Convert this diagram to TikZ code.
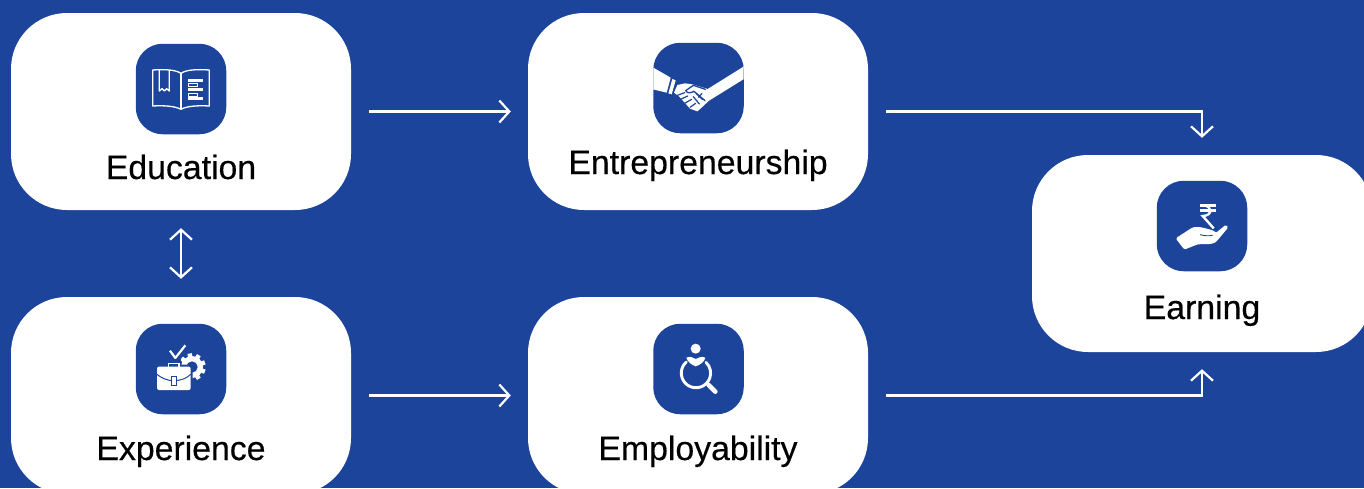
\documentclass[tikz,border=0pt]{standalone}
\usepackage{fontspec}
\setmainfont[FakeBold=0.35]{Liberation Sans}
\usetikzlibrary{arrows.meta,calc}
\definecolor{brandblue}{HTML}{1D449B}
\tikzset{
  card/.style={fill=white,rounded corners=56pt,minimum width=340pt,minimum height=197pt,inner sep=0pt,draw=none},
  tile/.style={fill=brandblue,rounded corners=27pt,minimum width=90.5pt,minimum height=90.5pt,inner sep=0pt,draw=none},
  caption/.style={anchor=base,text=black,font=\fontsize{33.8}{40}\selectfont,inner sep=0pt},
  flow/.style={draw=white,line width=2.2pt,-{Straight Barb[length=10pt,width=22pt,line width=2.2pt]},shorten <=18pt,shorten >=17pt},
  bothflow/.style={draw=white,line width=2.2pt,{Straight Barb[length=10pt,width=22pt,line width=2.2pt]}-{Straight Barb[length=10pt,width=22pt,line width=2.2pt]},shorten <=18pt,shorten >=18pt},
  zoomed/.style={x=0.33333pt,y=-0.33333pt},
  iconline/.style={draw=white,line width=1.3pt,line join=round,fill=none},
}
\begin{document}
\begin{tikzpicture}[x=1pt,y=-1pt]
\useasboundingbox (0,0) rectangle (1364,488);
\clip (0,0) rectangle (1364,488);
\fill[brandblue] (0,0) rectangle (1364,488);
% cards
\node[card] (edu) at (181,111.5) {};
\node[card] (ent) at (698,111.5) {};
\node[card] (exp) at (181,395.5) {};
\node[card] (emp) at (698,395.5) {};
\node[card] (earn) at (1202,253.5) {};
% tiles
\node[tile] (tedu) at (181,89) {};
\node[tile] (tent) at (698.5,88) {};
\node[tile] (texp) at (181,369) {};
\node[tile] (temp) at (698.5,369) {};
\node[tile] (tearn) at (1202,226) {};
% captions
\node[caption] (ledu) at (181,179) {Education};
\node[caption] (lent) at (698,174) {Entrepreneurship};
\node[caption] (lexp) at (181,460) {Experience};
\node[caption] (lemp) at (698,460) {Employability};
\node[caption] (learn) at (1202,319) {Earning};
% connectors
\draw[flow] (edu.east) -- (ent.west);
\draw[flow] (exp.east) -- (emp.west);
\draw[bothflow] (edu.south) -- (exp.north);
\draw[flow] (ent.east) -| (earn.north);
\draw[flow] (emp.east) -| (earn.south);
% book icon
\begin{scope}[shift={(120,30)},zoomed]
\draw[iconline] (183,130) .. controls (165,118) and (130,118) .. (98,120) -- (98,228) .. controls (130,226) and (165,228) .. (183,238) .. controls (200,228) and (235,226) .. (268,228) -- (268,120) .. controls (235,118) and (200,118) .. (183,130) -- cycle;
\draw[iconline] (183,130) -- (183,238);
\draw[iconline] (118,120) -- (118,183) -- (126,176) -- (133,183) -- (140,176) -- (148,183) -- (148,120);
\fill[white] (203,147) rectangle (248,156);
\draw[iconline,line width=1pt] (204,161) rectangle (232,170);
\fill[white] (203,175) rectangle (248,184);
\draw[iconline,line width=1pt] (204,189) rectangle (232,198);
\fill[white] (203,202) rectangle (248,211);
\end{scope}
% handshake icon
\begin{scope}[shift={(640,30)},zoomed]
\clip[rounded corners=27pt] (40,16) rectangle (311,287);
\fill[white] (30,107) -- (92,143) -- (80,188) -- (30,176) -- cycle;
\fill[white] (97,147) -- (107,151) -- (95,193) -- (85,190) -- cycle;
\fill[white] (320,104) -- (320,142) -- (207,212) -- (190,228) -- (172,244) -- (150,236) -- (118,200) -- (102,188) -- (112,165) -- (135,160) -- (157,163) -- (203,177) -- cycle;
\draw[brandblue,line width=1.3pt,line cap=round,line join=round] (196,178) -- (160,166) -- (137,182) .. controls (142,192) and (155,188) .. (162,184) -- (195,212);
\draw[brandblue,line width=1.2pt,line cap=round] (186,190) -- (176,202) (168,190) -- (187,208) (160,200) -- (178,222);
\draw[brandblue,line width=1.2pt,line cap=round] (112,196) -- (134,188) (122,208) -- (143,198) (134,220) -- (155,208) (150,232) -- (167,220);
\end{scope}
% briefcase icon
\begin{scope}[shift={(120,310)},zoomed]
\draw[white,line width=2.2pt,line join=miter,line cap=butt] (150,122) -- (166,144) -- (196,106);
% gear
\foreach \a in {-100,-60,-20,20,60,100,-140}{
  \draw[white,line width=4.4pt] ($(216,171)+(\a:24)$) -- ($(216,171)+(\a:41)$);
}
\fill[white] (216,171) circle[radius=33];
\fill[brandblue] (216,171) circle[radius=17];
% briefcase
\fill[brandblue,rounded corners=3pt] (105,164) rectangle (218,246);
\fill[brandblue] (138,148) rectangle (184,170);
\draw[white,line width=1.6pt] (146,172) -- (146,160) -- (177,160) -- (177,172);
\fill[white,rounded corners=2pt] (111,170) rectangle (212,240);
\draw[brandblue,line width=1pt] (111,193) .. controls (125,205) and (140,210) .. (155,212);
\draw[brandblue,line width=1pt] (168,212) .. controls (185,210) and (200,205) .. (212,193);
\draw[brandblue,line width=1pt,fill=white] (154,199) rectangle (168,226);
\end{scope}
% search icon
\begin{scope}[shift={(640,310)},zoomed]
\fill[white] (167,116) circle[radius=15];
\draw[white,line width=2.9pt,line cap=round] (139,156) arc[start angle=-131,end angle=-407,radius=44];
\fill[white] (139,143) .. controls (150,138) and (160,142) .. (167,147) .. controls (175,142) and (185,138) .. (196,143) .. controls (194,155) and (180,165) .. (167,169) .. controls (155,165) and (142,155) .. (139,143) -- cycle;
\draw[white,line width=4.6pt,line cap=round] (206,225) -- (226,245);
\draw[white,line width=2pt] (198,218) -- (207,226);
\end{scope}
% rupee hand icon
\begin{scope}[shift={(1140,170)},zoomed]
\draw[white,line width=2.4pt,line join=miter] (181,107) -- (227,107) (181,122) -- (227,122);
\draw[white,line width=2.4pt,line join=miter] (192,107) .. controls (216,107) and (220,137) .. (188,138) -- (221,175);
\fill[white,rounded corners=1.5pt] (107,205) -- (150,177) .. controls (165,168) and (180,170) .. (215,180) .. controls (225,184) and (226,188) .. (226,190) -- (258,164) -- (265,172) -- (228,216) .. controls (210,226) and (190,220) .. (170,224) -- (133,239) -- cycle;
\draw[brandblue,line width=0.9pt] (180,194) .. controls (195,198) and (205,198) .. (218,196);
\end{scope}
\end{tikzpicture}
\end{document}
